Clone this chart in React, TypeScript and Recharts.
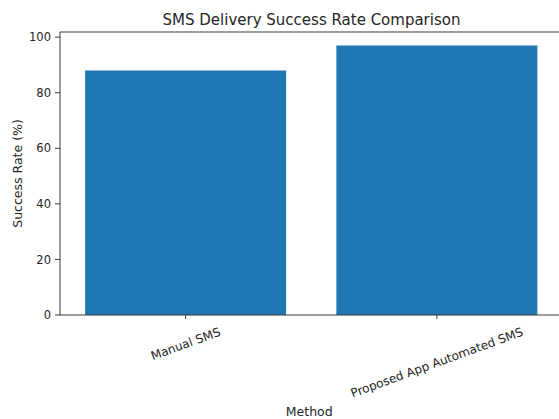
import React from "react";
import { BarChart, Bar, XAxis, YAxis, Label, ReferenceLine } from "recharts";

const methods = ["Manual SMS", "Proposed App Automated SMS"];
const successRates = [88, 97];
const yTicks = [0, 20, 40, 60, 80, 100];

const data = methods.map((m, i) => ({ method: m, rate: successRates[i] }));
const yMax = Math.max(...successRates) * 1.05;

const FONT = "'DejaVu Sans', sans-serif";
const TEXT = "#262626";
const AXIS = "#3a3a3a";

function measure(text: string, size: number): number {
  try {
    const c = document.createElement("canvas");
    const ctx = c.getContext("2d");
    if (ctx) {
      ctx.font = `${size}px 'DejaVu Sans'`;
      return ctx.measureText(text).width;
    }
  } catch (e) {}
  return text.length * size * 0.62;
}

const XTick = (props: any) => {
  const { x, y, payload } = props;
  const size = 12;
  const ang = (20 * Math.PI) / 180;
  const L = measure(String(payload.value), size);
  const h = size * 1.15;
  const bboxH = L * Math.sin(ang) + h * Math.cos(ang);
  const cx = x;
  const cy = y + 4 + bboxH / 2;
  return (
    <text
      x={cx}
      y={cy}
      transform={`rotate(-20 ${cx} ${cy})`}
      textAnchor="middle"
      dominantBaseline="central"
      fontSize={size}
      fontFamily={FONT}
      fill={TEXT}
    >
      {payload.value}
    </text>
  );
};

const YLabel = (props: any) => {
  const vb = props.viewBox || {};
  const cx = (vb.x || 0) + 17;
  const cy = (vb.y || 0) + (vb.height || 0) / 2;
  return (
    <text
      x={cx}
      y={cy}
      transform={`rotate(-90 ${cx} ${cy})`}
      textAnchor="middle"
      dominantBaseline="central"
      fontSize={12.5}
      fontFamily={FONT}
      fill={TEXT}
    >
      Success Rate (%)
    </text>
  );
};

const XLabel = (props: any) => {
  const vb = props.viewBox || {};
  const cx = (vb.x || 0) + (vb.width || 0) / 2 - 2;
  const cy = (vb.y || 0) + (vb.height || 0) - 8;
  return (
    <text
      x={cx}
      y={cy}
      textAnchor="middle"
      dominantBaseline="central"
      fontSize={12.5}
      fontFamily={FONT}
      fill={TEXT}
    >
      Method
    </text>
  );
};

export default function App() {
  return (
    <div
      style={{
        position: "absolute",
        left: 0,
        top: 0,
        width: 559,
        height: 419,
        overflow: "hidden",
        background: "#fff",
      }}
    >
      <div
        style={{
          position: "absolute",
          left: 60,
          width: 503,
          top: 11,
          textAlign: "center",
          fontFamily: FONT,
          fontSize: 15,
          lineHeight: "18px",
          color: TEXT,
          whiteSpace: "nowrap",
        }}
      >
        SMS Delivery Success Rate Comparison
      </div>
      <BarChart
        width={600}
        height={419}
        data={data}
        margin={{ top: 32, right: 37.5, left: 0, bottom: 0 }}
        barCategoryGap="10%"
      >
        <XAxis
          dataKey="method"
          height={104}
          tick={<XTick />}
          tickSize={4}
          tickLine={{ stroke: AXIS }}
          axisLine={{ stroke: AXIS, strokeWidth: 1 }}
          interval={0}
        >
          <Label content={<XLabel />} />
        </XAxis>
        <YAxis
          width={60}
          domain={[0, yMax]}
          ticks={yTicks}
          tickSize={5}
          tickMargin={4}
          tickLine={{ stroke: AXIS }}
          axisLine={{ stroke: AXIS, strokeWidth: 1 }}
          tick={{ fontSize: 11.5, fontFamily: FONT, fill: TEXT }}
        >
          <Label content={<YLabel />} />
        </YAxis>
        <Bar dataKey="rate" fill="#1f77b4" isAnimationActive={false} />
        <ReferenceLine y={yMax} stroke={AXIS} strokeWidth={1} ifOverflow="extendDomain" />
      </BarChart>
    </div>
  );
}
